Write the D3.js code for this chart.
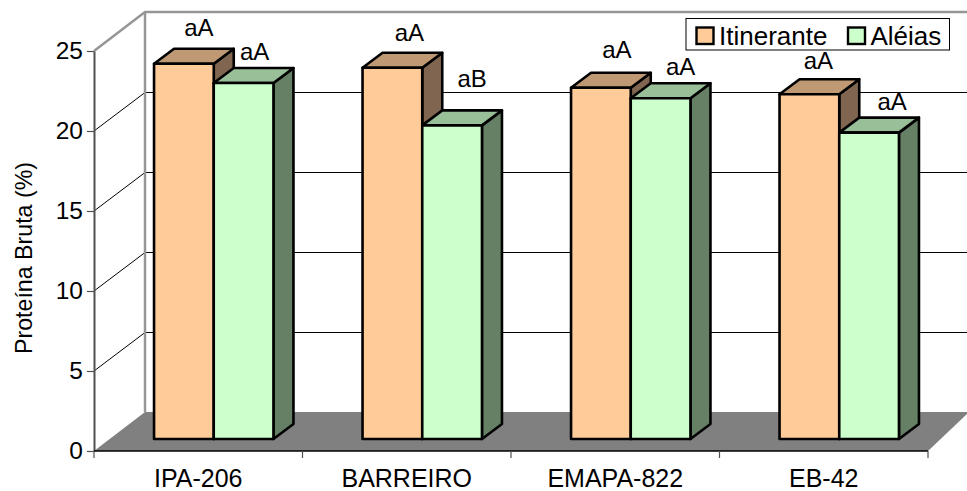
<!DOCTYPE html>
<html>
<head>
<meta charset="utf-8">
<script src="https://cdn.jsdelivr.net/npm/d3@7/dist/d3.min.js"></script>
<style>
html,body{margin:0;padding:0;background:#fff}
svg{display:block}
text{font-family:"Liberation Sans",Arial,sans-serif;fill:#000}
</style>
</head>
<body>
<svg id="chart" width="967" height="491"></svg>
<script>
const categories = ["IPA-206", "BARREIRO", "EMAPA-822", "EB-42"];
const seriesNames = ["Itinerante", "Aléias"];
const itinerante = [23.45, 23.2, 21.95, 21.55];
const aleias = [22.25, 19.6, 21.3, 19.15];
const itineranteLetters = ["aA", "aA", "aA", "aA"];
const aleiasLetters = ["aA", "aB", "aA", "aA"];
const yTicks = [0, 5, 10, 15, 20, 25];

const W = 967, H = 491;
const svg = d3.select("#chart");

// Plot frame: front plane of the box and the oblique offset to its back wall
const frame = {left: 94, right: 928, bottom: 451, top: 51, dx: 51, dy: 39};
// Columns sit in the middle of the box depth
const barDepth = {dx: 20, dy: 15};
const inset = {dx: (frame.dx - barDepth.dx) / 2, dy: (frame.dy - barDepth.dy) / 2};

const y = d3.scaleLinear().domain([0, 25]).range([frame.bottom, frame.top]);
const x = d3.scaleBand().domain(categories).range([frame.left, frame.right]);
const inner = d3.scaleBand().domain(seriesNames)
  .range([0, x.bandwidth()])
  .paddingOuter(0.746).paddingInner(0);

const palette = {
  "Itinerante": {front: "#FFCC99", top: "#BF9973", side: "#806650"},
  "Aléias": {front: "#CCFFCC", top: "#99BF99", side: "#668066"}
};
const wallGray = "#969696";
const axisGray = "#505050";
const tickFont = 24.5, categoryFont = 25, titleFont = 23.2, letterFont = 24, legendFont = 26;

// Floor
svg.append("polygon")
  .attr("points", [[frame.left, frame.bottom], [frame.left + frame.dx, frame.bottom - frame.dy],
    [W + 2, frame.bottom - frame.dy], [W + 2, frame.bottom - frame.dy], [frame.right, frame.bottom]].join(" "))
  .attr("fill", "#808080");

// Back wall gridlines and their diagonals across the left wall
const grid = svg.append("g");
yTicks.filter(t => t > 0 && t < 25).forEach(t => {
  grid.append("path")
    .attr("d", d3.line()([[frame.left, y(t)], [frame.left + frame.dx, y(t) - frame.dy + 0.5], [W, y(t) - frame.dy + 0.5]]))
    .attr("fill", "none").attr("stroke", "#000").attr("stroke-width", 1);
});

// Back wall outline
svg.append("path")
  .attr("d", d3.line()([[frame.left, y(25)], [frame.left + frame.dx, y(25) - frame.dy], [W, y(25) - frame.dy]]))
  .attr("fill", "none").attr("stroke", wallGray).attr("stroke-width", 2.5);
svg.append("line")
  .attr("x1", frame.left + frame.dx).attr("x2", frame.left + frame.dx)
  .attr("y1", y(25) - frame.dy).attr("y2", frame.bottom - frame.dy)
  .attr("stroke", wallGray).attr("stroke-width", 2.5);

// Value axis
const yAxis = svg.append("g")
  .attr("transform", `translate(${frame.left},0)`)
  .call(d3.axisLeft(y).tickValues(yTicks).tickSize(7).tickPadding(4).tickSizeOuter(0));
yAxis.select(".domain").attr("stroke", axisGray).attr("stroke-width", 2);
yAxis.selectAll(".tick line").attr("stroke", axisGray).attr("stroke-width", 1.2);
yAxis.selectAll("text").attr("font-size", tickFont).style("font-family", '"Liberation Sans"').attr("fill", "#000");

// Category axis: ticks mark the band edges, labels sit in the band centres
const edges = categories.map(c => x(c)).concat(frame.right);
const xAxisLine = svg.append("g");
xAxisLine.append("line")
  .attr("x1", frame.left).attr("x2", frame.right)
  .attr("y1", frame.bottom).attr("y2", frame.bottom)
  .attr("stroke", "#000").attr("stroke-width", 1.5);
xAxisLine.selectAll(".edge").data(edges).join("line").attr("class", "edge")
  .attr("x1", d => d).attr("x2", d => d)
  .attr("y1", frame.bottom).attr("y2", frame.bottom + 7)
  .attr("stroke", axisGray).attr("stroke-width", 1.2);
xAxisLine.selectAll("text").data(categories).join("text")
  .attr("x", d => x(d) + x.bandwidth() / 2)
  .attr("y", 487)
  .attr("text-anchor", "middle")
  .attr("font-size", categoryFont)
  .text(d => d);

// Y axis title
svg.append("text")
  .attr("transform", `translate(32,${(frame.top + frame.bottom) / 2 + 7}) rotate(-90)`)
  .attr("text-anchor", "middle")
  .attr("font-size", titleFont)
  .text("Proteína Bruta (%)");

// Columns: one extruded box per category and series
const base = frame.bottom - inset.dy;
function drawBox(g, series, cat, value) {
  const c = palette[series];
  const x0 = x(cat) + inset.dx + inner(series);
  const x1 = x0 + inner.bandwidth();
  const yTop = y(value) - inset.dy;
  const {dx, dy} = barDepth;
  const poly = (pts, fill) => g.append("polygon").attr("points", pts.join(" ")).attr("fill", fill)
    .attr("stroke", "#000").attr("stroke-width", 2.6).attr("stroke-linejoin", "round");
  poly([[x1, yTop], [x1 + dx, yTop - dy], [x1 + dx, base - dy], [x1, base]], c.side);
  poly([[x0, yTop], [x0 + dx, yTop - dy], [x1 + dx, yTop - dy], [x1, yTop]], c.top);
  poly([[x0, yTop], [x1, yTop], [x1, base], [x0, base]], c.front);
}
const bars = svg.append("g");
categories.forEach((cat, i) => {
  drawBox(bars, "Itinerante", cat, itinerante[i]);
  drawBox(bars, "Aléias", cat, aleias[i]);
});

// Significance letters, hand-placed clear of the neighbouring column
const nudgeIt = [[15, -28], [17, -27], [16, -30], [9, -25]];
const nudgeAl = [[11, -23], [20, -38], [20, -23], [23, -23]];
const letters = svg.append("g").attr("font-size", letterFont).attr("text-anchor", "middle");
categories.forEach((cat, i) => {
  const place = (series, value, label, n) => {
    const cx = x(cat) + inset.dx + inner(series) + inner.bandwidth() / 2 + n[0];
    letters.append("text").attr("x", cx).attr("y", y(value) - inset.dy + n[1]).text(label);
  };
  place("Itinerante", itinerante[i], itineranteLetters[i], nudgeIt[i]);
  place("Aléias", aleias[i], aleiasLetters[i], nudgeAl[i]);
});

// Legend
const legend = svg.append("g");
legend.append("rect").attr("x", 686).attr("y", 18.5).attr("width", 263.5).attr("height", 31.5)
  .attr("fill", "#fff").attr("stroke", "#000").attr("stroke-width", 1);
const legendX = [696.5, 848];
seriesNames.forEach((name, i) => {
  legend.append("rect").attr("x", legendX[i]).attr("y", 27.5).attr("width", 17).attr("height", 16.5)
    .attr("fill", palette[name].front).attr("stroke", "#000").attr("stroke-width", 2.4);
  legend.append("text").attr("x", legendX[i] + 22.5).attr("y", 44.5)
    .attr("font-size", legendFont).text(name);
});
</script>
</body>
</html>
